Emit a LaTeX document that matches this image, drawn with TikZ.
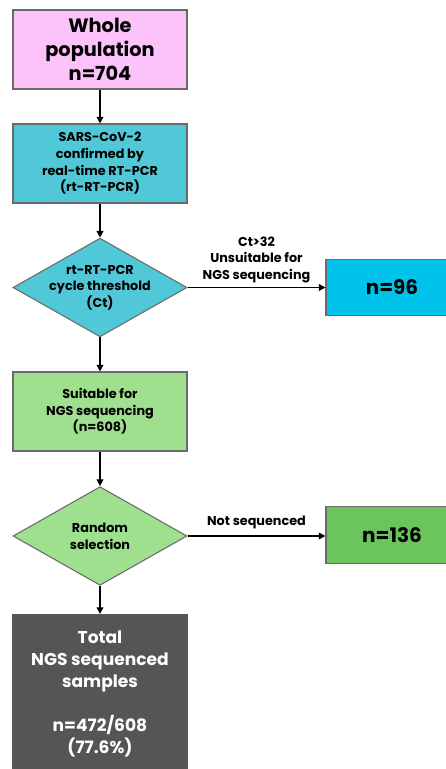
\documentclass[tikz,border=0pt]{standalone}
\usepackage{fontspec}
\setmainfont{Poppins}
\usetikzlibrary{shapes.geometric,arrows.meta}
\definecolor{pinkbox}{HTML}{FBC3F9}
\definecolor{tealbox}{HTML}{50C8D8}
\definecolor{cyanbox}{HTML}{00C3EB}
\definecolor{lgreen}{HTML}{9EE08E}
\definecolor{dgreen}{HTML}{6CC55A}
\definecolor{darkbox}{HTML}{555555}
\definecolor{edge}{HTML}{6A6A6A}

\begin{document}
\begin{tikzpicture}[x=0.75pt,y=-0.75pt,
  font=\bfseries\fontsize{9.6}{12.5}\selectfont,
  box/.style={draw=edge,line width=0.8pt,minimum width=130.5pt,minimum height=59.25pt,align=center,inner sep=0pt},
  decision/.style={diamond,draw=edge,line width=0.8pt,minimum width=130.5pt,minimum height=74pt,inner sep=0pt,aspect=1.76},
  side/.style={draw=edge,line width=0.8pt,minimum width=99pt,minimum height=42.5pt,font=\bfseries\fontsize{15}{18}\selectfont},
  arr/.style={-{Triangle[length=5pt,width=5pt]},line width=1.1pt}]
\useasboundingbox (0,0) rectangle (446,769);
% main column
\node[box,fill=pinkbox,font=\bfseries\fontsize{14.5}{18}\selectfont] (pop) at (100,49.5) {Whole\\population\\n=704};
\node[box,fill=tealbox] (conf) at (100,163.5) {SARS-CoV-2\\confirmed by\\real-time RT-PCR\\(rt-RT-PCR)};
\node[decision,fill=tealbox,label={[align=center]center:rt-RT-PCR\\cycle threshold\\(Ct)}] (ct) at (100,287.5) {};
\node[box,fill=lgreen] (suit) at (100,411.5) {Suitable for\\NGS sequencing\\(n=608)};
\node[decision,fill=lgreen,label={[align=center]center:Random\\selection}] (rand) at (100,536) {};
\node[box,fill=darkbox,draw=darkbox,text=white,minimum height=118.5pt,anchor=north,font=\bfseries\fontsize{12.8}{16.5}\selectfont] (tot) at (100,614) {Total\\NGS sequenced\\samples\\[16.5pt]n=472/608\\(77.6\%)};
% side boxes
\node[side,fill=cyanbox] (n96) at (392,287.5) {n=96};
\node[side,fill=dgreen] (n136) at (392,535) {n=136};
% arrows
\draw[arr] (pop) -- (conf);
\draw[arr] (conf) -- (ct);
\draw[arr] (ct) -- (suit);
\draw[arr] (suit) -- (rand);
\draw[arr] (rand) -- (tot);
\draw[arr] (ct.east) -- node[above,align=center,yshift=-0.5pt]{Ct>32\\Unsuitable for\\NGS sequencing} (n96.west);
\draw[arr] (rand.east) -- node[above,yshift=1.5pt]{Not sequenced} (rand.east -| n136.west);
\end{tikzpicture}
\end{document}
